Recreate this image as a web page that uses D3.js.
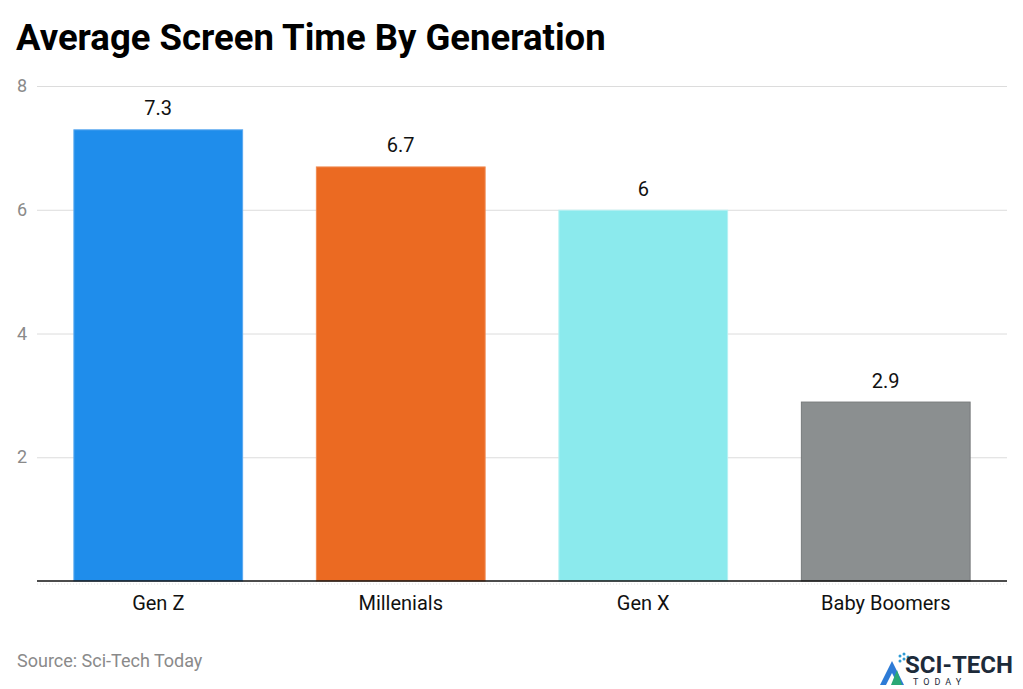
<!DOCTYPE html>
<html>
<head>
<meta charset="utf-8">
<script src="https://cdn.jsdelivr.net/npm/d3@7"></script>
<style>
  body { margin: 0; background: #fff; font-family: Roboto, sans-serif; }
</style>
</head>
<body>
<script>
var categories = ["Gen Z", "Millenials", "Gen X", "Baby Boomers"];
var values = [7.3, 6.7, 6, 2.9];
var barColors = ["#1f8deb", "#eb6a22", "#8beaed", "#8b8f90"];
var strokeColors = ["#5aa9f0", "#f08a50", "#b5f1f3", "#777a7b"];
var yTicks = [2, 4, 6, 8];

var W = 1023, H = 689;
var margin = { top: 86, right: 16, bottom: 108, left: 37 },
    width = W - margin.left - margin.right,
    height = H - margin.top - margin.bottom;

var svg = d3.select("body").append("svg")
    .attr("width", W)
    .attr("height", H);

svg.append("text")
    .attr("x", 16).attr("y", 50)
    .style("font-size", "36.5px")
    .style("font-weight", "bold")
    .style("fill", "#000")
    .text("Average Screen Time By Generation");

var g = svg.append("g")
    .attr("transform", "translate(" + margin.left + "," + margin.top + ")");

var x = d3.scaleBand()
    .domain(categories)
    .range([0, width])
    .paddingInner(0.3)
    .paddingOuter(0.15);
var y = d3.scaleLinear()
    .domain([0, 8])
    .range([height, 0]);

// gridlines
g.selectAll(".grid")
    .data(yTicks)
    .enter().append("line")
    .attr("x1", 0).attr("x2", width)
    .attr("y1", d => y(d) + 0.5).attr("y2", d => y(d) + 0.5)
    .style("stroke", "#dcdcdc")
    .style("stroke-width", 1);

// y tick labels
g.selectAll(".ylab")
    .data(yTicks)
    .enter().append("text")
    .attr("x", -20).attr("y", d => y(d) + 6)
    .style("font-size", "18px")
    .style("fill", "#8a8a8a")
    .text(d => d);

// bars
g.selectAll(".bar")
    .data(values)
    .enter().append("rect")
    .attr("x", (d, i) => x(categories[i]) + 0.5)
    .attr("y", d => y(d) + 0.5)
    .attr("width", x.bandwidth() - 1)
    .attr("height", d => height - y(d) - 0.5)
    .style("fill", (d, i) => barColors[i])
    .style("stroke", (d, i) => strokeColors[i])
    .style("stroke-width", 1);

// value labels
g.selectAll(".val")
    .data(values)
    .enter().append("text")
    .attr("x", (d, i) => x(categories[i]) + x.bandwidth() / 2)
    .attr("y", d => y(d) - 14)
    .attr("text-anchor", "middle")
    .style("font-size", "20px")
    .style("fill", "#111")
    .text(d => d);

// baseline
g.append("line")
    .attr("x1", 0).attr("x2", width)
    .attr("y1", height).attr("y2", height)
    .style("stroke", "#111")
    .style("stroke-width", 1.5);
g.append("line")
    .attr("x1", 0).attr("x2", width)
    .attr("y1", height + 3).attr("y2", height + 3)
    .style("stroke", "#e4e4e4")
    .style("stroke-dasharray", "1,2");

// x labels
g.selectAll(".xlab")
    .data(categories)
    .enter().append("text")
    .attr("x", d => x(d) + x.bandwidth() / 2)
    .attr("y", height + 29)
    .attr("text-anchor", "middle")
    .style("font-size", "20px")
    .style("fill", "#111")
    .text(d => d);

// source
svg.append("text")
    .attr("x", 17).attr("y", 667)
    .style("font-size", "18px")
    .style("fill", "#8a8a8a")
    .text("Source: Sci-Tech Today");

// logo
var logo = svg.append("g").attr("transform", "translate(880,650)");
logo.append("path")
    .attr("d", "M0,35 L12,11 L24,35 Z")
    .style("fill", "#2d7bd6");
logo.append("path")
    .attr("d", "M6,35 L12,23 L18,35 Z")
    .style("fill", "#fff");
logo.append("path")
    .attr("d", "M11,35 L17,20 L22,35 Z")
    .style("fill", "#2aa876");
logo.selectAll(".dot")
    .data([[20, 6], [24, 4], [24, 9], [28, 7], [20, 11]])
    .enter().append("circle")
    .attr("cx", d => d[0]).attr("cy", d => d[1]).attr("r", 1.5)
    .style("fill", "#2d9bd6");
logo.append("text")
    .attr("x", 25).attr("y", 23)
    .style("font-size", "24px")
    .style("font-weight", "bold")
    .style("fill", "#1d2b3a")
    .text("SCI-TECH");
logo.append("text")
    .attr("x", 33).attr("y", 35)
    .style("font-size", "9px")
    .style("letter-spacing", "5px")
    .style("fill", "#1d2b3a")
    .text("TODAY");
</script>
</body>
</html>
